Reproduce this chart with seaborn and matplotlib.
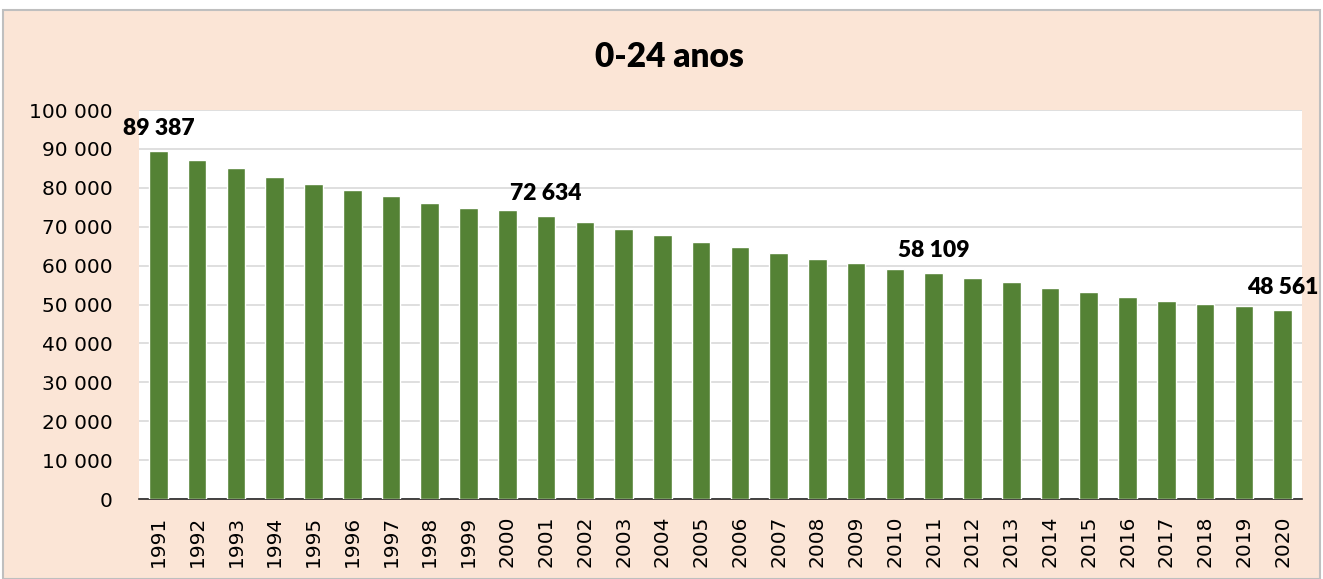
import matplotlib
matplotlib.use("Agg")
import matplotlib.pyplot as plt
from matplotlib.patches import Rectangle
from matplotlib.ticker import FuncFormatter
import pandas as pd
import seaborn as sns

# dados
anos = [str(a) for a in range(1991, 2021)]
valores = [89387, 87100, 85000, 82900, 81100, 79500, 77900, 76200, 74700, 74200,
           72634, 71200, 69500, 67900, 66200, 64700, 63200, 61600, 60600, 59200,
           58109, 56900, 55800, 54300, 53300, 51900, 50800, 50100, 49500, 48561]
anos_rotulados = ["1991", "2001", "2011", "2020"]
titulo = "0-24 anos"

cor_barra = "#548235"
cor_fundo = "#FBE5D6"

sns.set_theme(style="white")
plt.rcParams["font.family"] = ["DejaVu Sans"]

df = pd.DataFrame({"ano": anos, "valor": valores})

fig = plt.figure(figsize=(13.23, 5.79), dpi=100)
fig.patch.set_facecolor("white")
fig.patches.append(Rectangle((0.002, 0.0), 0.996, 0.982, transform=fig.transFigure,
                             facecolor=cor_fundo, edgecolor="#BFBFBF", linewidth=1.5,
                             zorder=-10))

ax = fig.add_axes([0.1051, 0.138, 0.879, 0.672])
ax.set_facecolor("white")
sns.barplot(data=df, x="ano", y="valor", color=cor_barra, width=0.48,
            saturation=1, ax=ax, zorder=3)

ax.set_xlim(-0.5, len(anos) - 0.5)
ax.set_ylim(0, 100000)
ax.set_yticks(range(0, 100001, 10000))
ax.yaxis.set_major_formatter(FuncFormatter(lambda v, p: f"{int(v):,}".replace(",", " ")))
ax.grid(axis="y", color="#D9D9D9", linewidth=1.2, zorder=0)
ax.set_xlabel("")
ax.set_ylabel("")
for s in ["top", "right", "left"]:
    ax.spines[s].set_visible(False)
ax.spines["bottom"].set_color("#262626")
ax.spines["bottom"].set_linewidth(1.2)
ax.tick_params(axis="x", labelrotation=90, labelsize=14.5, length=0, pad=12,
               labelcolor="black")
ax.tick_params(axis="y", labelsize=14.5, length=0, pad=19, labelcolor="black")

for i, (a, v) in enumerate(zip(anos, valores)):
    if a in anos_rotulados:
        ax.annotate(f"{v:,}".replace(",", " "), (i, v), xytext=(0, 9),
                    textcoords="offset points", ha="center", va="bottom",
                    fontsize=16.5, fontweight="heavy", color="black",
                    family=["Lato", "DejaVu Sans"])

fig.text(0.506, 0.902, titulo, ha="center", va="center", fontsize=24,
         fontweight="heavy", color="black", family=["Lato", "DejaVu Sans"])

fig.savefig("out.png", dpi=100)
